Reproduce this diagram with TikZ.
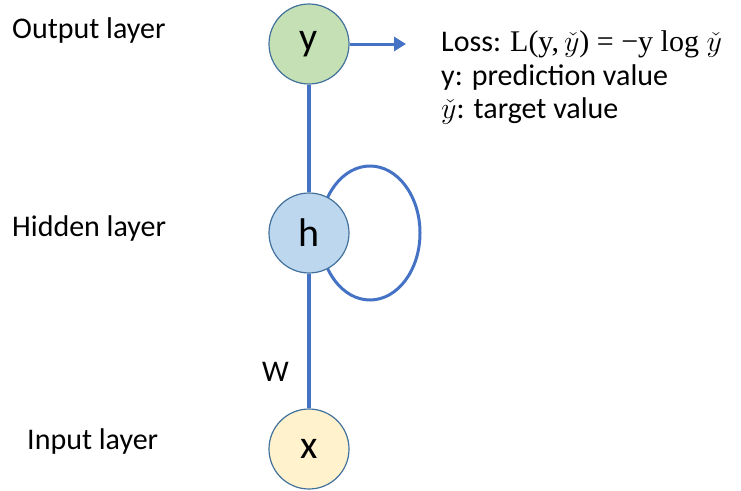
\documentclass[tikz,border=0pt]{standalone}
\usepackage{fix-cm}
\usepackage{fontspec}
\setmainfont{Carlito}
\newfontfamily\serifmath{Liberation Serif}
\usetikzlibrary{arrows.meta}
\definecolor{linkblue}{HTML}{4472C4}
\definecolor{rimblue}{HTML}{41719C}
\definecolor{ygreen}{HTML}{C5E0B4}
\definecolor{hblue}{HTML}{BDD7EE}
\definecolor{xyellow}{HTML}{FFF2CC}
\tikzset{
  neuron/.style={circle, draw=rimblue, line width=1.2pt, minimum size=80pt, inner sep=0pt, font=\fontsize{40}{42}\selectfont},
  link/.style={draw=linkblue, line width=4pt},
  lbl/.style={font=\fontsize{30}{34}\selectfont, inner sep=0pt, anchor=west},
}
\newcommand{\yck}{\ensuremath{\check{y}}}
\begin{document}
\begin{tikzpicture}[x=1pt,y=-1pt]
\useasboundingbox (0,0) rectangle (741,490);
% loop behind h
\draw[link, line width=3pt] (370,233) ellipse [x radius=50, y radius=67];
\node[neuron, fill=ygreen] (y) at (309,44) {y};
\node[neuron, fill=hblue] (h) at (309,233) {h};
\node[neuron, fill=xyellow] (x) at (309,449) {x};
\draw[link] (y) -- (h);
\draw[link] (h) -- (x);
\coordinate (lossarrow) at (406,44);
\draw[link, line width=3pt, -{Triangle[length=12pt,width=14pt]}] (y) -- (lossarrow);
\node[lbl] (out) at (12,30) {Output layer};
\node[lbl] (hid) at (12,228) {Hidden layer};
\node[lbl] (inp) at (27,441) {Input layer};
\node[lbl] (w) at (262,372) {W};
\node[lbl] (loss) at (441,44) {Loss: {\serifmath L(y,\,\yck) = −y log \yck}};
\node[lbl] (pred) at (441,77) {y: prediction value};
\node[lbl] (targ) at (441,111) {\yck: target value};
\end{tikzpicture}
\end{document}
